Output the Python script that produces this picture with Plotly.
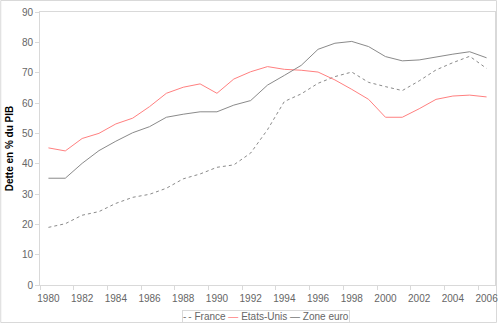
import plotly.graph_objects as go

years = list(range(1980, 2007))
france = [19.0, 20.2, 23.0, 24.2, 26.9, 28.9, 29.9, 31.9, 35.0, 36.6, 38.8, 39.6, 43.5,
          51.2, 60.5, 63.0, 66.5, 68.7, 70.2, 66.8, 65.4, 64.1, 67.3, 70.9, 73.3, 75.4, 71.4]
etats_unis = [45.2, 44.2, 48.3, 50.0, 53.1, 55.0, 58.8, 63.2, 65.2, 66.3, 63.2, 67.9, 70.3,
              72.0, 71.1, 70.8, 70.2, 67.6, 64.5, 61.2, 55.3, 55.3, 58.1, 61.2, 62.3, 62.6, 62.0]
zone_euro = [35.2, 35.2, 40.1, 44.3, 47.4, 50.2, 52.2, 55.3, 56.3, 57.1, 57.1, 59.3, 60.8,
             65.9, 69.1, 72.4, 77.7, 79.7, 80.3, 78.6, 75.3, 73.9, 74.2, 75.2, 76.1, 76.9, 74.9]

x_labels = [str(y) for y in years[::2]]
y_ticks = list(range(0, 91, 10))

GREY = "#8A8A8A"
RED = "#FF8080"
AXIS = "#D9D9D9"
TXT = "#666666"

fig = go.Figure()
fig.add_trace(go.Scatter(x=years, y=france, mode="lines", name="France",
                         line=dict(color=GREY, width=1, dash="3px,3px")))
fig.add_trace(go.Scatter(x=years, y=etats_unis, mode="lines", name="Etats-Unis",
                         line=dict(color=RED, width=1)))
fig.add_trace(go.Scatter(x=years, y=zone_euro, mode="lines", name="Zone euro",
                         line=dict(color=GREY, width=1)))

fig.update_layout(
    width=500, height=323,
    margin=dict(l=40, r=2, t=12, b=38),
    paper_bgcolor="white", plot_bgcolor="white",
    showlegend=False,
    font=dict(family="Liberation Sans, Arial, sans-serif", size=10, color=TXT),
)
fig.update_xaxes(
    range=[years[0] - 0.5, years[-1] + 0.5],
    tickmode="array", tickvals=years[::2], ticktext=x_labels,
    ticks="outside", ticklen=4, tickcolor="rgba(0,0,0,0)",
    ticklabeloverflow="allow",
    minor=dict(tickmode="array", tickvals=[y - 0.5 for y in years[::2]],
               ticks="outside", ticklen=4, tickcolor=AXIS, showgrid=False),
    showgrid=False, zeroline=False,
    showline=True, linecolor=AXIS, linewidth=1, mirror=True,
    tickfont=dict(size=10, color=TXT),
)
fig.update_yaxes(
    range=[0, 90], tickvals=y_ticks,
    ticks="outside", ticklen=4, tickcolor=AXIS,
    showgrid=False, zeroline=False,
    showline=True, linecolor=AXIS, linewidth=1, mirror=True,
    tickfont=dict(size=10, color=TXT),
    title=dict(text="<b>Dette en % du PIB</b>", font=dict(size=10, color="black"), standoff=6),
)

legend_text = (f"<span style='color:#777777'>-\u2009-</span> France "
               f"<span style='color:{RED}'>—</span> Etats-Unis "
               f"<span style='color:#777777'>—</span> Zone euro")
fig.add_annotation(xref="paper", yref="paper", x=(267 - 40) / 458, y=(285 - 316) / 273,
                   xanchor="center", yanchor="middle", showarrow=False,
                   text=legend_text, font=dict(size=10, color=TXT),
                   bordercolor=AXIS, borderwidth=1, borderpad=0, bgcolor="white")

# outer chart border
fig.add_shape(type="rect", xref="paper", yref="paper",
              x0=(0.5 - 40) / 458, x1=(499.5 - 40) / 458,
              y0=(285 - 322.5) / 273, y1=(285 - 0.5) / 273,
              line=dict(color=AXIS, width=1), layer="below")

fig.write_html("out.html")
